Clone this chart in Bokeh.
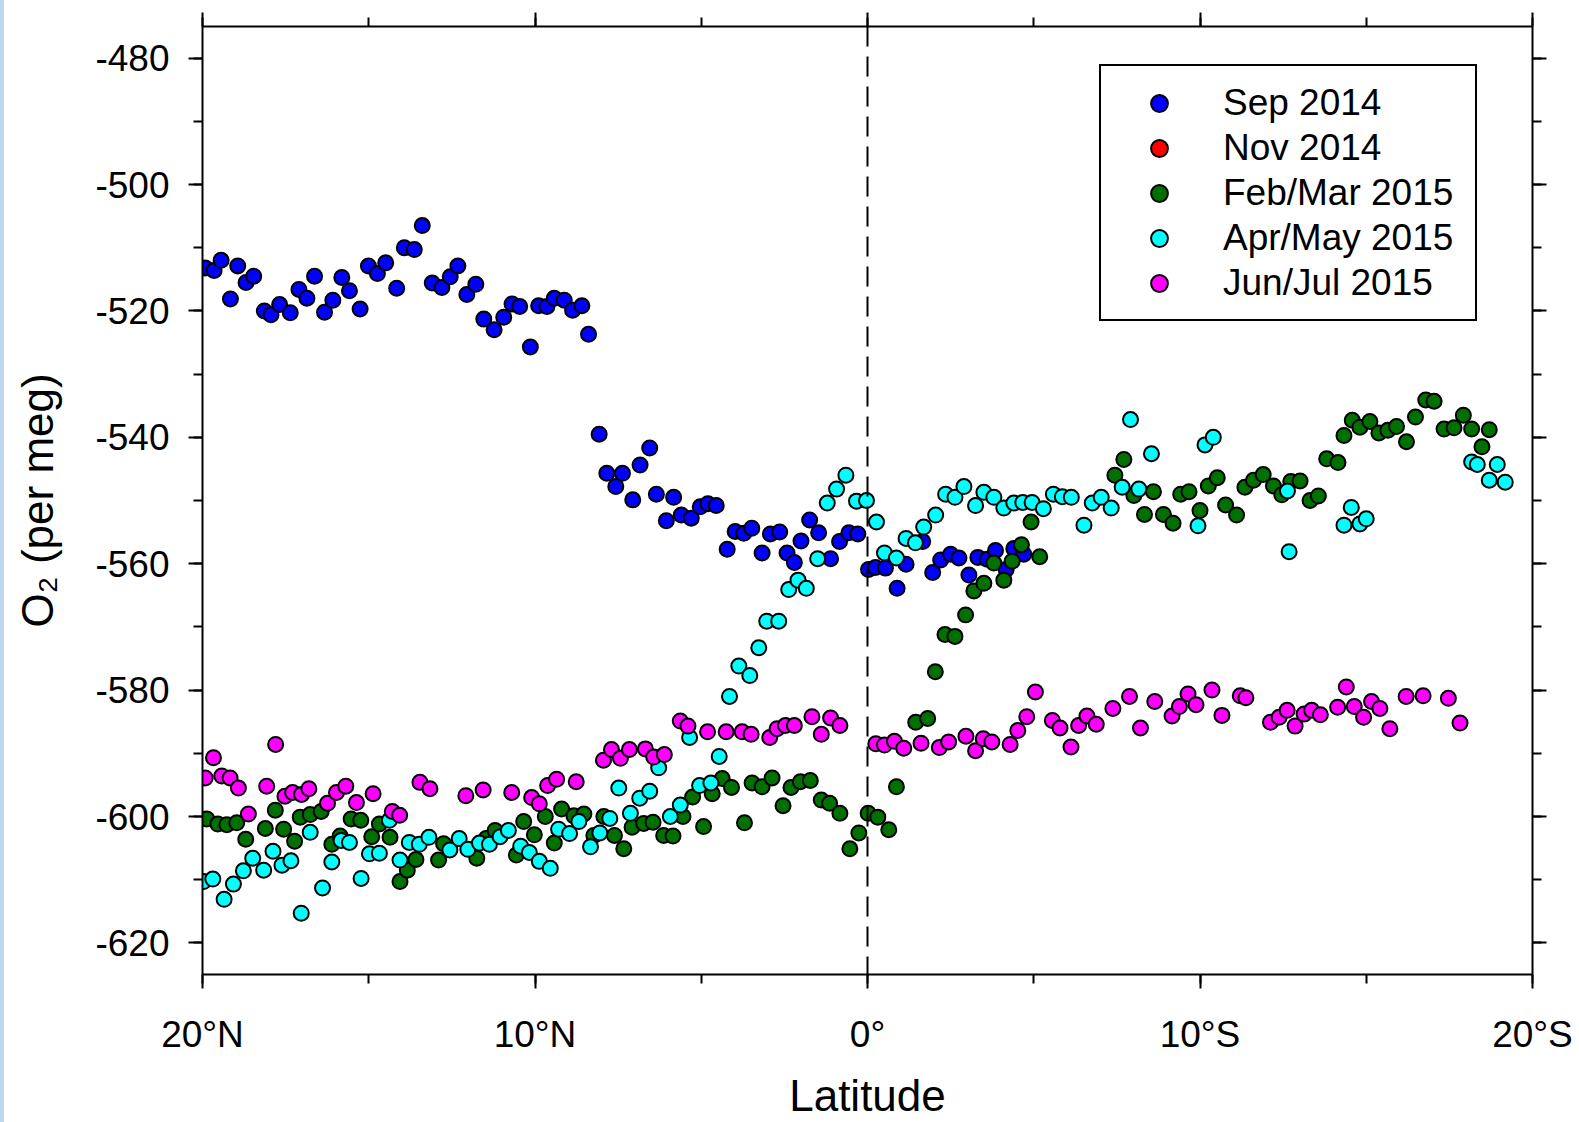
import numpy as np
from bokeh.plotting import figure
from bokeh.models import (Range1d, LinearAxis, SingleIntervalTicker, Span, Div,
                          Legend, LegendItem)
from bokeh.layouts import row
from bokeh.embed import file_html
from bokeh.resources import INLINE

# Latitude in degrees (north positive), O2 in per meg
sep14_lat = [19.92, 19.65, 19.44, 19.16, 18.94, 18.69, 18.46, 18.14, 17.94, 17.68,
             17.36, 17.10, 16.86, 16.63, 16.33, 16.08, 15.81, 15.58, 15.26, 15.01,
             14.74, 14.49, 14.16, 13.93, 13.63, 13.39, 13.09, 12.80, 12.55, 12.32,
             12.05, 11.78, 11.54, 11.23, 10.94, 10.69, 10.46, 10.14, 9.89, 9.64,
             9.42, 9.12, 8.87, 8.59, 8.39,
             8.07, 7.84, 7.57, 7.37, 7.06, 6.84, 6.55, 6.35, 6.05, 5.83,
             5.60, 5.30, 5.03, 4.80, 4.55, 4.22, 3.98, 3.72, 3.48, 3.17,
             2.92, 2.64, 2.42, 2.20, 2.00, 1.74, 1.47, 1.11, 0.84, 0.56, 0.29,
             -0.03, -0.24, -0.54, -0.89, -1.16, -1.66, -1.96, -2.20, -2.50, -2.75,
             -3.05, -3.32, -3.60, -3.85, -4.17, -4.40, -4.70]
sep14_o2 = [-513.2, -513.6, -512.0, -518.1, -512.9, -515.5, -514.5, -520.0, -520.6, -519.0,
            -520.3, -516.6, -518.0, -514.5, -520.2, -518.3, -514.7, -516.8, -519.7, -512.9,
            -514.1, -512.4, -516.4, -510.0, -510.3, -506.5, -515.6, -516.3, -514.6, -512.9,
            -517.4, -515.8, -521.3, -523.0, -521.0, -518.9, -519.3, -525.7, -519.2, -519.3,
            -518.0, -518.3, -519.9, -519.2, -523.7,
            -539.5, -545.7, -547.8, -545.7, -549.9, -544.4, -541.7, -549.0, -553.2, -549.5,
            -552.3, -552.8, -551.0, -550.5, -550.8, -557.7, -554.9, -555.2, -554.4, -558.3,
            -555.3, -555.0, -558.3, -559.8, -556.4, -553.1, -555.1, -559.2, -556.5, -555.1, -555.3,
            -560.9, -560.6, -560.7, -563.9, -560.1, -556.5, -561.4, -559.4, -558.5, -559.1,
            -561.8, -559.0, -559.3, -557.9, -560.9, -557.6, -558.5]

# no Nov 2014 samples fall in this latitude band; it only appears in the key
nov14_lat = [np.nan]
nov14_o2 = [np.nan]

febmar15_lat = [19.87, 19.54, 19.27, 18.97, 18.70, 18.11, 17.81, 17.56, 17.23, 17.06,
                16.76, 16.43, 16.11, 15.86, 15.53, 15.24, 14.91, 14.68, 14.36, 14.06,
                13.84, 13.58, 12.90, 12.75, 11.75, 11.47, 11.20, 10.56, 10.34, 10.02,
                9.69, 9.42, 9.20,
                8.83, 8.53, 8.23, 7.93, 7.61, 7.33, 7.08, 6.73, 6.45, 6.13,
                5.85, 5.55, 5.26, 4.93, 4.67, 4.37, 4.09, 3.70, 3.47, 3.17,
                2.87, 2.54, 2.30, 2.02, 1.72, 1.39, 1.14, 0.83, 0.53, 0.26,
                -0.02, -0.31, -0.64, -0.87,
                -1.45, -1.81, -2.04, -2.33, -2.63, -2.95, -3.20, -3.50, -3.80, -4.10,
                -4.35, -4.63, -4.92, -5.18, -7.44, -7.71, -8.01, -8.33, -8.60, -8.90,
                -9.19, -9.42, -9.67,
                -10.00, -10.25, -10.52, -10.77, -11.10, -11.35, -11.61, -11.90, -12.21, -12.46,
                -12.73, -13.01, -13.31, -13.56, -13.81, -14.15, -14.33, -14.58, -14.81, -15.11,
                -15.38, -15.65, -15.91, -16.21, -16.48, -16.79, -17.04, -17.34, -17.64, -17.92,
                -18.17, -18.48, -18.70]
febmar15_o2 = [-600.4, -601.2, -601.3, -601.0, -603.6, -601.9, -599.0, -602.0, -603.9, -600.1,
               -599.7, -599.2, -604.4, -603.1, -600.4, -600.6, -603.2, -601.2, -603.3, -610.3,
               -608.5, -606.8, -606.9, -604.3, -606.6, -603.5, -602.2, -606.1, -600.8, -602.9,
               -600.0, -604.2, -598.8,
               -599.9, -599.6, -603.0, -600.0, -603.0, -605.1, -601.7, -601.1, -600.9, -603.0,
               -603.1, -600.0, -596.9, -601.6, -596.4, -594.0, -595.4, -601.0, -594.7, -595.3,
               -593.9, -598.3, -595.4, -594.5, -594.3, -597.4, -597.9, -599.5, -605.1, -602.6,
               -599.5, -600.1, -602.1, -595.3,
               -585.1, -584.5, -577.1, -571.2, -571.5, -568.1, -564.3, -563.1, -559.9, -562.6,
               -559.6, -557.0, -553.4, -558.9, -546.0, -543.5, -549.2, -552.2, -548.6, -552.2,
               -553.6, -549.0, -548.6,
               -551.6, -547.7, -546.4, -550.7, -552.3, -547.9, -546.8, -545.9, -547.7, -549.1,
               -547.0, -546.9, -550.0, -549.3, -543.4, -544.0, -539.7, -537.3, -538.4, -537.5,
               -539.3, -538.9, -538.3, -540.7, -536.8, -534.1, -534.3, -538.7, -538.5, -536.5,
               -538.7, -541.5, -538.8]

aprmay15_lat = [19.97, 19.69, 19.35, 19.07, 18.77, 18.49, 18.16, 17.88, 17.61, 17.34,
                17.03, 16.76, 16.39, 16.11, 15.83, 15.58, 15.23, 14.98, 14.68, 14.38,
                14.06, 13.78, 13.48, 13.19, 12.56, 12.28, 12.02, 11.67, 11.37, 11.05,
                10.80, 10.43, 10.17, 9.87, 9.54, 9.29,
                8.96, 8.68, 8.33, 8.05, 7.75, 7.48, 7.13, 6.85, 6.55, 6.28,
                5.93, 5.63, 5.35, 5.05, 4.71, 4.46, 4.15, 3.87, 3.54, 3.27,
                3.03, 2.67, 2.37, 2.09, 1.84, 1.50, 1.21, 0.93, 0.65, 0.33, 0.03,
                -0.27, -0.51, -0.87, -1.16, -1.44, -1.69, -2.05, -2.35, -2.63, -2.90,
                -3.25, -3.50, -3.80, -4.10, -4.40, -4.67, -4.95, -5.29, -5.59, -5.86,
                -6.13, -6.51, -6.76, -7.03, -7.33, -7.66, -7.91, -8.16, -8.54,
                -9.94, -10.15, -10.40, -12.63, -12.68, -14.33, -14.55, -14.81, -15.00,
                -18.17, -18.34, -18.70, -18.94, -19.18]
aprmay15_o2 = [-610.3, -609.9, -613.1, -610.7, -608.6, -606.6, -608.5, -605.5, -607.7, -607.0,
               -615.3, -602.5, -611.3, -607.2, -603.8, -604.1, -609.8, -605.9, -605.8, -600.6,
               -606.9, -604.1, -604.4, -603.3, -605.3, -603.5, -605.2, -604.2, -604.4, -603.2,
               -602.2, -604.7, -605.7, -607.1, -608.2, -602.0,
               -602.7, -600.8, -604.8, -602.6, -600.3, -595.5, -599.5, -597.1, -596.0, -592.3,
               -600.0, -598.2, -587.5, -595.1, -594.7, -590.5, -581.0, -576.2, -577.7, -573.3,
               -569.1, -569.1, -564.1, -562.6, -563.9, -559.2, -550.4, -548.2, -546.0, -550.1, -550.0,
               -553.4, -558.3, -559.1, -556.0, -556.7, -554.2, -552.3, -549.0, -549.5, -547.8,
               -550.8, -548.7, -549.5, -551.2, -550.4, -550.3, -550.3, -551.3, -549.0, -549.4,
               -549.5, -553.9, -550.4, -549.5, -551.2, -547.9, -537.2, -548.2, -542.6,
               -554.0, -541.2, -540.0, -548.5, -558.1, -553.9, -551.1, -553.7, -552.9,
               -543.9, -544.3, -546.8, -544.3, -547.1]

junjul15_lat = [19.92, 19.67, 19.42, 19.17, 18.92, 18.62, 18.07, 17.80, 17.52, 17.29,
                17.02, 16.80, 16.24, 15.97, 15.69, 15.37, 14.87, 14.29, 14.07, 13.46,
                13.16, 12.08, 11.56, 10.70, 10.10, 9.87, 9.62, 9.35,
                8.76, 7.94, 7.70, 7.43, 7.16, 6.68, 6.43, 6.11, 5.63, 5.40,
                4.81, 4.25, 3.77, 3.50, 2.94, 2.72, 2.47, 2.20, 1.67, 1.39, 1.11, 0.83,
                -0.25, -0.51, -0.81, -1.09, -1.61, -2.16, -2.44, -2.96, -3.25, -3.48,
                -3.74, -4.29, -4.52, -4.79, -5.05, -5.56, -5.79, -6.12, -6.35, -6.60,
                -6.88, -7.38, -7.88, -8.21, -8.64, -9.16, -9.38, -9.64, -9.88, -10.36,
                -10.66, -11.21, -11.38, -12.12, -12.38, -12.62, -12.86, -13.13, -13.36, -13.62,
                -14.14, -14.40, -14.64, -14.92, -15.16, -15.41, -15.71, -16.20, -16.71, -17.47,
                -17.82]
junjul15_o2 = [-593.9, -590.7, -593.6, -593.9, -595.5, -599.6, -595.2, -588.6, -596.8, -596.2,
               -596.5, -595.6, -597.9, -596.2, -595.2, -597.8, -596.4, -599.2, -599.8, -594.6,
               -595.6, -596.7, -595.8, -596.2, -597.0, -598.0, -595.1, -594.1,
               -594.5, -591.1, -589.4, -590.8, -589.4, -589.3, -590.6, -590.2, -584.9, -585.7,
               -586.6, -586.6, -586.6, -587.0, -587.5, -586.1, -585.6, -585.6, -584.2, -587.0, -584.4, -585.6,
               -588.5, -588.7, -588.1, -589.2, -588.4, -589.1, -588.2, -587.3, -589.6, -587.7,
               -588.2, -588.6, -586.4, -584.2, -580.3, -584.8, -586.0, -589.0, -585.6, -584.1,
               -585.4, -582.9, -581.0, -586.0, -581.8, -584.1, -582.6, -580.6, -582.3, -580.0,
               -584.0, -580.9, -581.2, -585.1, -584.3, -583.2, -585.7, -583.8, -583.2, -583.9,
               -582.7, -579.5, -582.6, -584.3, -581.8, -582.9, -586.1, -581.0, -580.9, -581.3,
               -585.2]

series_labels = ["Sep 2014", "Nov 2014", "Feb/Mar 2015", "Apr/May 2015", "Jun/Jul 2015"]
series_colors = ["#0000FF", "#FF0000", "#007000", "#00FFFF", "#FF00FF"]
series_data = [(sep14_lat, sep14_o2), (nov14_lat, nov14_o2), (febmar15_lat, febmar15_o2),
               (aprmay15_lat, aprmay15_o2), (junjul15_lat, junjul15_o2)]

lat_labels = {20: "20°N", 10: "10°N", 0: "0°", -10: "10°S", -20: "20°S"}
o2_ticks = [-620, -600, -580, -560, -540, -520, -500, -480]

FONT = "Liberation Sans"

p = figure(width=1575, height=1122, output_backend="svg", toolbar_location=None,
           x_range=Range1d(20, -20), y_range=Range1d(-625, -475),
           x_axis_location=None, y_axis_location=None,
           min_border_left=198, min_border_right=47,
           min_border_top=26, min_border_bottom=140)
p.grid.visible = False
p.outline_line_color = None
p.background_fill_color = "white"
p.border_fill_color = "white"


def style_axis(ax, show_labels):
    ax.axis_line_width = 2
    ax.axis_line_color = "black"
    ax.major_tick_line_width = 2
    ax.minor_tick_line_width = 2
    ax.major_tick_line_color = "black"
    ax.minor_tick_line_color = "black"
    ax.major_tick_in = 0
    ax.major_tick_out = 14
    ax.minor_tick_in = 0
    ax.minor_tick_out = 9
    ax.major_label_text_font = FONT
    if show_labels:
        ax.major_label_text_font_size = "37px"
        ax.major_label_text_color = "black"
    else:
        ax.major_label_text_font_size = "0px"
        ax.major_label_text_color = None
        ax.major_label_standoff = 0


x_ticker = SingleIntervalTicker(interval=10, num_minor_ticks=2)
y_ticker = SingleIntervalTicker(interval=20, num_minor_ticks=2)

xb = LinearAxis(ticker=x_ticker, axis_label="Latitude")
style_axis(xb, True)
xb.major_label_overrides = lat_labels
xb.major_label_standoff = 25
xb.axis_label_text_font = FONT
xb.axis_label_text_font_size = "44px"
xb.axis_label_text_font_style = "normal"
xb.axis_label_text_color = "black"
xb.axis_label_standoff = 13
p.add_layout(xb, "below")

xt = LinearAxis(ticker=x_ticker)
style_axis(xt, False)
p.add_layout(xt, "above")

yl = LinearAxis(ticker=y_ticker, axis_label="O₂ (per meg)")
style_axis(yl, True)
yl.major_label_overrides = {t: str(t) for t in o2_ticks}
yl.major_label_standoff = 19
yl.axis_label_text_font = FONT
yl.axis_label_text_font_size = "44px"
yl.axis_label_text_font_style = "normal"
yl.axis_label_text_color = "black"
yl.axis_label_standoff = 30
p.add_layout(yl, "left")

yr = LinearAxis(ticker=y_ticker)
style_axis(yr, False)
p.add_layout(yr, "right")

# equator marker
p.add_layout(Span(location=0, dimension="height", line_color="black",
                  line_width=2, line_dash="20 10"))

renderers = []
for (lat, o2), color in zip(series_data, series_colors):
    r = p.scatter(x=np.array(lat, dtype=float), y=np.array(o2, dtype=float),
                  marker="circle", size=15, fill_color=color,
                  line_color="black", line_width=2)
    renderers.append(r)

legend = Legend(items=[LegendItem(label=lab, renderers=[r], index=0)
                       for lab, r in zip(series_labels, renderers)],
                location=(897, 653))
legend.margin = 0
legend.padding = 14
legend.spacing = 0
legend.glyph_width = 88
legend.glyph_height = 42
legend.label_height = 45
legend.label_width = 238
legend.label_standoff = 20
legend.label_text_font = FONT
legend.label_text_font_size = "37px"
legend.label_text_color = "black"
legend.border_line_color = "black"
legend.border_line_alpha = 1.0
legend.border_line_width = 2
legend.background_fill_color = "white"
legend.background_fill_alpha = 1.0
p.add_layout(legend)

strip = Div(width=4, height=1122, margin=0,
            styles={"background-color": "#BDD7EE"})
layout = row(strip, p, spacing=0)

open("out.html", "w").write(file_html(layout, INLINE))
